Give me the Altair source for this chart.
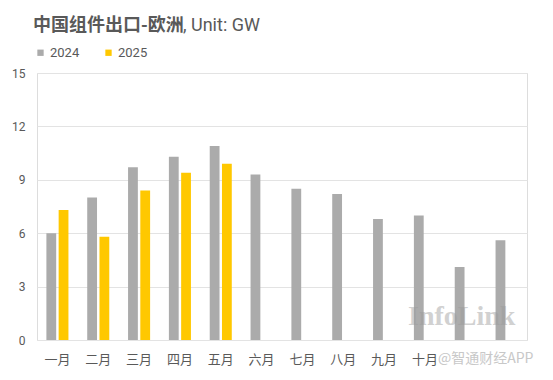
import altair as alt
import pandas as pd

months = ["一月", "二月", "三月", "四月", "五月", "六月", "七月", "八月", "九月", "十月", "十一月", "十二月"]
v2024 = [6.0, 8.0, 9.7, 10.3, 10.9, 9.3, 8.5, 8.2, 6.8, 7.0, 4.1, 5.6]
v2025 = [7.3, 5.8, 8.4, 9.4, 9.9]
years = ["2024", "2025"]
colors = ["#ababab", "#ffc800"]
y_ticks = [0, 3, 6, 9, 12, 15]

rows = []
for m, v in zip(months, v2024):
    rows.append({"month": m, "year": "2024", "value": v})
for m, v in zip(months, v2025):
    rows.append({"month": m, "year": "2025", "value": v})
df = pd.DataFrame(rows)

FONT = "Roboto, Noto Sans CJK SC, sans-serif"

bars = alt.Chart(df).mark_bar().encode(
    x=alt.X("month:N", sort=months,
            scale=alt.Scale(paddingInner=0.46, paddingOuter=0.23),
            axis=alt.Axis(title=None, labelAngle=0, ticks=False, domain=False, grid=False,
                          labelFont=FONT, labelFontSize=13, labelColor="#595959",
                          labelPadding=13,
                          labelExpr="datum.value == '十一月' || datum.value == '十二月' ? '' : datum.value")),
    xOffset=alt.XOffset("year:N", scale=alt.Scale(domain=years, paddingInner=0.2)),
    y=alt.Y("value:Q", scale=alt.Scale(domain=[0, 15]),
            axis=alt.Axis(title=None, values=y_ticks, ticks=False, domain=False,
                          labelFont=FONT, labelFontSize=12, labelColor="#595959",
                          labelPadding=12, gridColor="#e3e3e3", gridWidth=1)),
    color=alt.Color("year:N", scale=alt.Scale(domain=years, range=colors),
                    legend=alt.Legend(title=None, orient="none", direction="horizontal",
                                      legendX=-3, legendY=-27, symbolType="square",
                                      symbolSize=40, symbolStrokeWidth=0,
                                      labelFont=FONT, labelFontSize=13, labelColor="#595959",
                                      columnPadding=22, labelOffset=3)),
)

title1 = alt.Chart(pd.DataFrame({"t": ["中国组件出口-欧洲"]})).mark_text(
    align="left", baseline="alphabetic", font="Noto Sans CJK SC", fontSize=18,
    fontWeight="bold", color="#595959"
).encode(x=alt.value(-4), y=alt.value(-42), text="t:N")

title2 = alt.Chart(pd.DataFrame({"t": [", Unit: GW"]})).mark_text(
    align="left", baseline="alphabetic", font=FONT, fontSize=18,
    color="#595959"
).encode(x=alt.value(146), y=alt.value(-42), text="t:N")

wm1 = alt.Chart(pd.DataFrame({"t": ["InfoLink"]})).mark_text(
    align="left", baseline="alphabetic", font="Liberation Serif", fontSize=28,
    fontWeight="bold", color="#9a9a9a", opacity=0.45
).encode(x=alt.value(371), y=alt.value(252), text="t:N")

wm2 = alt.Chart(pd.DataFrame({"t": ["@智通财经APP"]})).mark_text(
    align="left", baseline="middle", font="Noto Sans CJK SC", fontSize=14,
    color="#c8c8c8"
).encode(x=alt.value(401), y=alt.value(286), text="t:N")

chart = alt.layer(bars, title1, title2, wm1, wm2).properties(
    width=490, height=267,
    autosize=alt.AutoSizeParams(type="none"),
    padding={"left": 29, "top": 65, "right": 18, "bottom": 32},
).configure_view(stroke=None).configure(background="white")

chart.save("out.html", embed_options={"renderer": "svg", "actions": False})
